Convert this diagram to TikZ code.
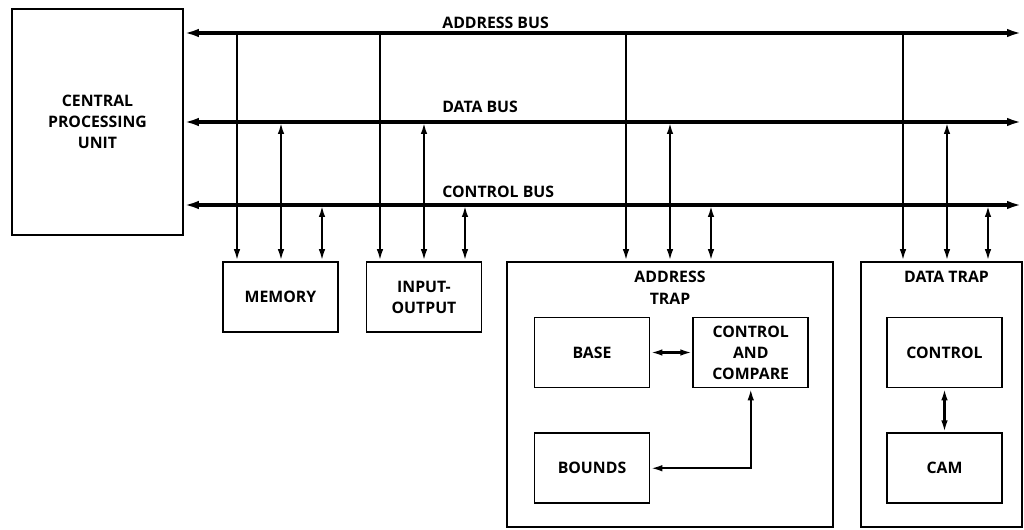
\documentclass[tikz,border=0pt]{standalone}
\usepackage{fontspec}
\setmainfont{Open Sans}
\usetikzlibrary{positioning, arrows.meta, calc}

\begin{document}
\begin{tikzpicture}[
  font=\fontsize{9}{12}\selectfont\bfseries,
  node distance=0.88cm and 0.84cm,
  >={Latex[length=2.4mm, width=1.3mm]},
  blk/.style={draw, line width=1pt, align=center, inner sep=2pt,
              minimum width=2.3cm, minimum height=1.4cm},
  trap/.style={draw, line width=1pt, minimum height=5.3cm},
  bus/.style={arrows={Latex[length=3mm, width=1.7mm]-Latex[length=3mm, width=1.7mm]},
              line width=2pt},
  tap/.style={->, line width=1.3pt},
  ttap/.style={<->, line width=1.3pt},
  lbl/.style={anchor=west, inner sep=0pt}
]
  \useasboundingbox (0,0) rectangle (20.48,-10.6);

  % Processor
  \node[blk, minimum width=3.42cm, minimum height=4.52cm] (cpu) at (1.95,-2.44)
       {CENTRAL\\PROCESSING\\UNIT};

  % Buses
  \coordinate (abus) at (20.44,-0.66);
  \coordinate (dbus) at (20.44,-2.44);
  \coordinate (cbus) at (20.44,-4.10);
  \draw[bus] (cpu.east |- abus) -- (abus);
  \draw[bus] (cpu.east |- dbus) -- (dbus);
  \draw[bus] (cpu.east |- cbus) -- (cbus);
  \node[lbl] (abus-l) at (8.84,-0.45) {ADDRESS BUS};
  \node[lbl] (dbus-l) at (8.84,-2.14) {DATA BUS};
  \node[lbl] (cbus-l) at (8.84,-3.83) {CONTROL BUS};

  % Modules on the buses
  \node[blk] (mem) at (5.61,-5.94) {MEMORY};
  \node[blk] (io)  at (8.48,-5.94) {INPUT-\\OUTPUT};
  \node[trap, minimum width=6.52cm] (atrap) at (13.40,-7.89) {};
  \node[trap, minimum width=3.22cm] (dtrap) at (18.83,-7.89) {};
  \node[anchor=north, align=center, inner sep=0pt] (atrap-l)
       at ([yshift=-0.2cm]atrap.north) {ADDRESS\\TRAP};
  \node[anchor=north, inner sep=0pt] (dtrap-l)
       at ([xshift=0.1cm, yshift=-0.2cm]dtrap.north) {DATA TRAP};

  % Bus taps
  \foreach \m/\x in {mem/4.74, io/7.60, atrap/12.52, dtrap/18.06} {
    \coordinate (\m-a) at (\x,0);
    \coordinate (\m-d) at (\x+0.88,0);
    \coordinate (\m-c) at (\x+1.70,0);
    \draw[tap]  (\m-a |- abus) -- (\m-a |- \m.north);
    \draw[ttap] (\m-d |- dbus) -- (\m-d |- \m.north);
    \draw[ttap] (\m-c |- cbus) -- (\m-c |- \m.north);
  }

  % Address trap
  \node[blk] (base) at (11.84,-7.05) {BASE};
  \node[blk, right=of base] (cmp) {CONTROL\\AND\\COMPARE};
  \node[blk, below=of base] (bounds) {BOUNDS};
  \draw[ttap] (base) -- (cmp);
  \draw[ttap] (bounds) -| (cmp);

  % Data trap
  \node[blk] (ctl) at (18.89,-7.05) {CONTROL};
  \node[blk, below=of ctl] (cam) {CAM};
  \draw[ttap] (ctl) -- (cam);
\end{tikzpicture}
\end{document}
